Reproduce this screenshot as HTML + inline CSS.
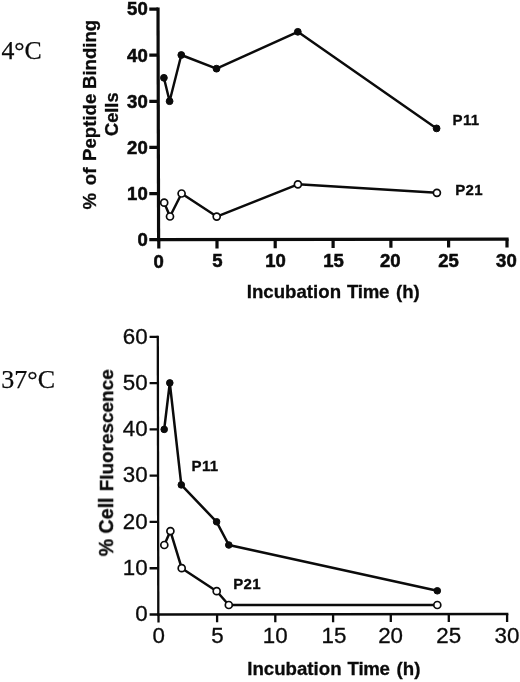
<!DOCTYPE html>
<html lang="en">
<head>
<meta charset="utf-8">
<title>Peptide binding and cell fluorescence vs incubation time</title>
<style>
  html, body { margin: 0; padding: 0; background: #ffffff; }
  body { width: 520px; height: 682px; overflow: hidden; }
  svg { display: block; }
  .sans { font-family: "Liberation Sans", Arial, Helvetica, sans-serif; }
  .serif { font-family: "Liberation Serif", "Times New Roman", Times, serif; }
  .serif { stroke: #0b0b0b; stroke-width: 0.25px; }
  .b { font-weight: bold; }
  text { fill: #0b0b0b; }
  .b { stroke: #0b0b0b; stroke-width: 0.3px; }
  .tk1 { stroke-width: 0.55px; }
  .tk2 { stroke: #0b0b0b; stroke-width: 0.3px; }
  .lbl { letter-spacing: 0.3px; }
  .ax1 { stroke: #0b0b0b; stroke-width: 3.2; fill: none; stroke-linecap: butt; }
  .ax2 { stroke: #0b0b0b; stroke-width: 2.3; fill: none; stroke-linecap: butt; }
  .ln1 { stroke: #0b0b0b; stroke-width: 2.45; fill: none; stroke-linejoin: round; }
  .ln2 { stroke: #0b0b0b; stroke-width: 2.5; fill: none; stroke-linejoin: round; }
  .dot, .dot2 { fill: #0b0b0b; stroke: #0b0b0b; stroke-width: 1; }
  .ring, .ring2 { fill: #ffffff; stroke: #0b0b0b; stroke-width: 1.7; }
</style>
</head>
<body>
<svg width="520" height="682" viewBox="0 0 520 682">
  <defs>
    <filter id="soft" x="0" y="0" width="520" height="682" filterUnits="userSpaceOnUse" color-interpolation-filters="sRGB">
      <feGaussianBlur stdDeviation="0.45"/>
    </filter>
  </defs>
  <rect x="0" y="0" width="520" height="682" fill="#ffffff"/>
  <g filter="url(#soft)">

  <!-- ================= TOP CHART (4 degrees C) ================= -->
  <g id="chart-top">
    <text class="serif" x="1.4" y="59.3" font-size="25.8">4°C</text>
    <text class="sans b" font-size="18.6" word-spacing="1.3" transform="translate(95.6 209.5) rotate(-90)"><tspan>%</tspan><tspan dx="1.3"> of</tspan><tspan dx="0.3"> Peptide</tspan><tspan dx="-1.8"> Binding</tspan></text>
    <text class="sans b" font-size="18.2" text-anchor="middle" transform="translate(118.2 114.2) rotate(-90)">Cells</text>
    <path class="ax1" d="M158 7.55 L158.6 241.25"/>
    <path class="ax1" d="M157.05 239.7 L508.65 239.2"/>
    <path class="ax1" d="M149.3 9.1 H158 M149.3 55.22 H158.12 M149.3 101.34 H158.24 M149.3 147.46 H158.36 M149.3 193.58 H158.48 M149.3 239.7 H158.6"/>
    <path class="ax1" d="M158.8 239.7 V248.6 M217 239.62 V248.4 M275.2 239.53 V248.2 M333.1 239.45 V248 M390.9 239.37 V247.8 M448.6 239.28 V247.6 M507 239.2 V247.4"/>
    <g class="sans b tk1" font-size="18.5" text-anchor="end">
      <text transform="translate(147.7 15.45) scale(1 1)">50</text>
      <text transform="translate(147.7 61.57) scale(1 1)">40</text>
      <text transform="translate(147.7 107.69) scale(1 1)">30</text>
      <text transform="translate(147.7 153.81) scale(1 1)">20</text>
      <text transform="translate(147.7 199.93) scale(1 1)">10</text>
      <text transform="translate(147.7 246.05) scale(1 1)">0</text>
    </g>
    <g class="sans b tk1" font-size="18.5" text-anchor="middle">
      <text transform="translate(158.7 267.5) scale(1 1)">0</text>
      <text transform="translate(217.3 267.35) scale(1 1)">5</text>
      <text transform="translate(275.6 267.2) scale(1 1)">10</text>
      <text transform="translate(333.6 267.05) scale(1 1)">15</text>
      <text transform="translate(390.3 266.9) scale(1 1)">20</text>
      <text transform="translate(448.6 266.75) scale(1 1)">25</text>
      <text transform="translate(506.4 266.6) scale(1 1)">30</text>
    </g>
    <polyline class="ln1" points="163.9,77.8 169.6,101.2 181.3,55 216.5,68.7 297.8,31.8 436.6,128.4"/>
    <g class="dot"><circle cx="163.9" cy="77.8" r="3.4"/><circle cx="169.6" cy="101.2" r="3.4"/><circle cx="181.3" cy="55" r="3.4"/><circle cx="216.5" cy="68.7" r="3.4"/><circle cx="297.8" cy="31.8" r="3.4"/><circle cx="436.6" cy="128.4" r="3.4"/></g>
    <text class="sans b lbl" font-size="15.0" x="452.6" y="125.4">P11</text>
    <polyline class="ln1" points="164.2,202.7 170,216.5 181.6,193.5 216.7,216.6 297.9,184.3 436.9,192.8"/>
    <g class="ring"><circle cx="164.2" cy="202.7" r="3.5"/><circle cx="170" cy="216.5" r="3.5"/><circle cx="181.6" cy="193.5" r="3.5"/><circle cx="216.7" cy="216.6" r="3.5"/><circle cx="297.9" cy="184.3" r="3.5"/><circle cx="436.9" cy="192.8" r="3.5"/></g>
    <text class="sans b lbl" font-size="15.0" x="455.2" y="194.5">P21</text>
    <text class="sans b" font-size="18.65" word-spacing="0.9" x="246.8" y="298.5" transform="translate(0 298.5) scale(1 1.03) translate(0 -298.5)"><tspan>Incubation </tspan><tspan letter-spacing="-0.28">Time</tspan><tspan dx="0.8"> (h)</tspan></text>
  </g>

  <!-- ================= BOTTOM CHART (37 degrees C) ================= -->
  <g id="chart-bottom">
    <text class="serif" x="1.3" y="388.3" font-size="26">37°C</text>
    <text class="sans b" font-size="19.6" transform="translate(113.1 556.3) rotate(-90)"><tspan x="0">% Cell </tspan><tspan x="64.9" font-size="18.95">Fluorescence</tspan></text>
    <path class="ax2" d="M157.8 335.73 L158.3 615.65"/>
    <path class="ax2" d="M157.15 614.5 L508.35 614"/>
    <path class="ax2" d="M149.6 336.88 H157.8 M149.6 383.15 H157.89 M149.6 429.42 H157.97 M149.6 475.69 H158.05 M149.6 521.96 H158.13 M149.6 568.23 H158.22 M149.6 614.5 H158.3"/>
    <path class="ax2" d="M158.5 614.5 V622.4 M217.1 614.42 V622.32 M275.3 614.33 V622.23 M333.1 614.25 V622.15 M390.8 614.17 V622.07 M448.8 614.08 V621.98 M507.1 614 V621.9"/>
    <g class="sans tk2" font-size="21.7" text-anchor="end">
      <text transform="translate(147.7 343.63) scale(1.03 1.0)">60</text>
      <text transform="translate(147.7 389.9) scale(1.03 1.0)">50</text>
      <text transform="translate(147.7 436.17) scale(1.03 1.0)">40</text>
      <text transform="translate(147.7 482.44) scale(1.03 1.0)">30</text>
      <text transform="translate(147.7 528.71) scale(1.03 1.0)">20</text>
      <text transform="translate(147.7 574.98) scale(1.03 1.0)">10</text>
      <text transform="translate(147.7 621.25) scale(1.03 1.0)">0</text>
    </g>
    <g class="sans tk2" font-size="21.7" text-anchor="middle">
      <text transform="translate(158.7 643.4) scale(1.03 1.0)">0</text>
      <text transform="translate(217.4 643.35) scale(1.03 1.0)">5</text>
      <text transform="translate(275.3 643.3) scale(1.03 1.0)">10</text>
      <text transform="translate(333.9 643.25) scale(1.03 1.0)">15</text>
      <text transform="translate(390.6 643.2) scale(1.03 1.0)">20</text>
      <text transform="translate(448.7 643.15) scale(1.03 1.0)">25</text>
      <text transform="translate(506.9 643.1) scale(1.03 1.0)">30</text>
    </g>
    <polyline class="ln2" points="164.2,429.4 169.8,382.9 181.3,484.9 216.6,521.8 228.8,545 437.3,590.8"/>
    <g class="dot2"><circle cx="164.2" cy="429.4" r="3.3"/><circle cx="169.8" cy="382.9" r="3.3"/><circle cx="181.3" cy="484.9" r="3.3"/><circle cx="216.6" cy="521.8" r="3.3"/><circle cx="228.8" cy="545" r="3.3"/><circle cx="437.3" cy="590.8" r="3.3"/></g>
    <text class="sans b lbl" font-size="15.0" x="191.6" y="470.9">P11</text>
    <polyline class="ln2" points="164.3,545 170.4,531.1 181.7,568.2 216.7,591.2 228.8,605 437.3,605"/>
    <g class="ring2"><circle cx="164.3" cy="545" r="3.5"/><circle cx="170.4" cy="531.1" r="3.5"/><circle cx="181.7" cy="568.2" r="3.5"/><circle cx="216.7" cy="591.2" r="3.5"/><circle cx="228.8" cy="605" r="3.5"/><circle cx="437.3" cy="605" r="3.5"/></g>
    <text class="sans b lbl" font-size="15.0" x="233.2" y="588.7">P21</text>
    <text class="sans b" font-size="18.65" word-spacing="0.9" x="247.3" y="675.1" transform="translate(0 675.1) scale(1 1.03) translate(0 -675.1)"><tspan>Incubation </tspan><tspan letter-spacing="-0.28">Time</tspan><tspan dx="0.8"> (h)</tspan></text>
  </g>
  </g>
</svg>
</body>
</html>
